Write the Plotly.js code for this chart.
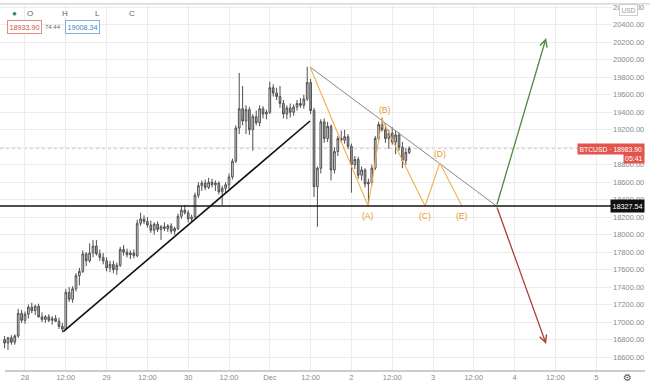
<!DOCTYPE html>
<html>
<head>
<meta charset="utf-8">
<script src="https://cdn.plot.ly/plotly-3.0.1.min.js"></script>
<style>html,body{margin:0;padding:0;background:#fff;}#chart{width:650px;height:390px;}</style>
</head>
<body>
<div id="chart"></div>
<script>
// ---- hourly BTCUSD candles, starting 2020-11-27 18:00 ----
const opens = [
16800,16760,16820,16770,16840,17100,17020,17090,17170,17130,
17180,17060,17030,17060,17020,17040,17010,16950,16920,17340,
17260,17380,17530,17580,17780,17700,17790,17870,17780,17740,
17700,17620,17660,17600,17650,17830,17800,17770,17790,17760,
18130,18180,18150,18110,18050,18120,18060,18090,18070,18100,
18040,18070,18210,18280,18250,18180,18200,18450,18560,18590,
18540,18600,18570,18590,18490,18530,18570,18660,18840,19220,
19440,19300,19430,19200,19350,19280,19440,19380,19400,19680,
19620,19580,19500,19380,19450,19400,19460,19500,19480,19550,
19740,19420,18550,18760,19290,19100,19240,18740,18950,19100,
19080,19120,19010,18800,18860,18680,18740,18580,18600,18760,
19100,19260,19200,19100,19160,19060,19140,19000,18850,18940];
const highs = [
16840,16830,16850,16860,17150,17140,17120,17200,17220,17200,
17210,17110,17080,17090,17070,17080,17050,16990,17380,17400,
17410,17560,17620,17820,17800,17900,17940,17940,17830,17790,
17740,17700,17700,17680,17860,17880,17840,17820,17830,18170,
18250,18220,18200,18160,18140,18150,18110,18140,18120,18130,
18090,18240,18320,18340,18280,18230,18480,18600,18620,18630,
18650,18640,18620,18610,18560,18600,18700,18870,19250,19850,
19700,19480,19460,19380,19420,19480,19470,19430,19750,19720,
19680,19700,19540,19480,19500,19490,19540,19560,19600,19920,
19780,19450,18780,19320,19330,19290,19260,19000,19130,19190,
19200,19150,19040,18900,18890,18780,18760,18640,18800,19130,
19290,19340,19260,19200,19230,19190,19170,19060,18990,19010];
const lows = [
16700,16680,16740,16740,16820,16990,16980,17040,17100,17080,
17050,17000,16990,17000,16970,17000,16920,16880,16910,17230,
17220,17350,17420,17560,17640,17680,17740,17760,17700,17660,
17580,17570,17560,17540,17630,17760,17740,17720,17730,17740,
18100,18120,18080,18020,18000,18030,17940,18040,18030,18010,
18000,18050,18180,18230,18140,18140,18190,18420,18500,18510,
18520,18540,18500,18460,18340,18480,18520,18630,18820,19150,
19250,19150,19140,18960,19250,19240,19330,19320,19380,19580,
19540,19450,19330,19320,19340,19360,19420,19450,19440,19530,
19380,18430,18090,18700,19050,19060,18620,18700,18900,19050,
19040,18980,18480,18750,18640,18620,18540,18330,18560,18740,
19060,19180,19050,18980,19030,18920,18960,18760,18800,18920];
const closes = [
16760,16820,16770,16840,17100,17020,17090,17170,17130,17180,
17060,17030,17060,17020,17040,17010,16950,16920,17340,17260,
17380,17530,17580,17780,17700,17790,17870,17780,17740,17700,
17620,17660,17600,17650,17830,17800,17770,17790,17760,18130,
18180,18150,18110,18050,18120,18060,18090,18070,18100,18040,
18070,18210,18280,18250,18180,18200,18450,18560,18590,18540,
18600,18570,18590,18490,18530,18570,18660,18840,19220,19440,
19300,19430,19200,19350,19280,19440,19380,19400,19680,19620,
19580,19500,19380,19450,19400,19460,19500,19480,19550,19740,
19420,18550,18760,19290,19100,19240,18740,18950,19100,19080,
19120,19010,18800,18860,18680,18740,18580,18600,18760,19100,
19260,19200,19100,19160,19060,19140,19000,18850,18940,18983.9];

// ---- axis ticks ----
const tickText = ['28','12:00','29','12:00','30','12:00','Dec','12:00','2','12:00','3','12:00','4','12:00','5'];

// ---- drawings ----
const supportPrice = 18327.54;
const lastPrice = 18983.90;
const trendUpTimes = ['2020-11-28 11:15','2020-12-01 11:50'];
const trendUpPrices = [16890, 19300];
const triTimes = ['2020-12-01 11:50','2020-12-03 18:40'];
const triPrices = [19918, 18327.54];
const waveTimes = ['2020-12-01 11:50','2020-12-02 04:55','2020-12-02 09:00','2020-12-02 21:40','2020-12-03 02:00','2020-12-03 08:30'];
const wavePrices = [19918, 18327.54, 19322, 18327.54, 18820, 18327.54];
const waveLabels = ['', '(A)', '(B)', '(C)', '(D)', '(E)'];
const projTimes = ['2020-12-03 18:40','2020-12-04 09:15'];
const projUpPrices = [18327.54, 20250];
const projDownPrices = [18327.54, 16750];

function stamp(ms){
  const d = new Date(ms), p = n => String(n).padStart(2,'0');
  return d.getUTCFullYear()+'-'+p(d.getUTCMonth()+1)+'-'+p(d.getUTCDate())+' '+p(d.getUTCHours())+':'+p(d.getUTCMinutes());
}
const startMs = Date.UTC(2020,10,27,18);
const times = closes.map((_, i) => stamp(startMs + i*3600e3));
const tickMs = Date.UTC(2020,10,28,0);
const tickVals = tickText.map((_, i) => stamp(tickMs + i*12*3600e3));

const FONT = 'Liberation Sans, Arial, sans-serif';
const orange = '#f1b04f';

const traces = [
  {type:'candlestick', x:times, open:opens, high:highs, low:lows, close:closes,
   increasing:{line:{color:'#505050', width:1}, fillcolor:'#e4e4e4'},
   decreasing:{line:{color:'#505050', width:1}, fillcolor:'#a4a4a4'},
   hoverinfo:'skip'},
  {type:'scatter', mode:'lines', x:trendUpTimes, y:trendUpPrices, line:{color:'#111', width:1.6}},
  {type:'scatter', mode:'lines', x:triTimes, y:triPrices, line:{color:'#8a8a8a', width:1}},
  {type:'scatter', mode:'lines', x:waveTimes, y:wavePrices, line:{color:orange, width:1.1}}
];

const annotations = [];
waveLabels.forEach((t, i) => {
  if (!t) return;
  const above = wavePrices[i] > supportPrice + 1;
  annotations.push({x:waveTimes[i], y:wavePrices[i], xref:'x', yref:'y', text:t, showarrow:false,
    yshift: above ? 9 : -10, xshift: (t==='(B)') ? 3 : 0,
    font:{family:FONT, size:8.5, color:'#e49a2c'}});
});
// projection arrows
annotations.push({x:projTimes[1], y:projUpPrices[1], ax:projTimes[0], ay:projUpPrices[0], xref:'x', yref:'y', axref:'x', ayref:'y',
  text:'', showarrow:true, arrowhead:5, arrowsize:1.1, arrowwidth:1.3, arrowcolor:'#4f8a3c'});
annotations.push({x:projTimes[1], y:projDownPrices[1], ax:projTimes[0], ay:projDownPrices[0], xref:'x', yref:'y', axref:'x', ayref:'y',
  text:'', showarrow:true, arrowhead:5, arrowsize:1.1, arrowwidth:1.3, arrowcolor:'#a9443a'});
// price labels on the axis
annotations.push({xref:'paper', yref:'y', x:1.054, y:lastPrice, xanchor:'right', yanchor:'middle', showarrow:false,
  text:'BTCUSD \u00b7 18983.90', bgcolor:'#e2554b', borderpad:1.5, font:{family:FONT, size:6.8, color:'#fff'}});
annotations.push({xref:'paper', yref:'y', x:1.054, y:lastPrice, yshift:-10, xanchor:'right', yanchor:'middle', showarrow:false,
  text:'05:41', bgcolor:'#e2554b', borderpad:1, font:{family:FONT, size:7, color:'#fff'}});
annotations.push({xref:'paper', yref:'y', x:1.054, y:supportPrice, xanchor:'right', yanchor:'middle', showarrow:false,
  text:'18327.54', bgcolor:'#111', borderpad:1.5, font:{family:FONT, size:7.2, color:'#fff'}});
annotations.push({xref:'paper', yref:'paper', x:1.027, y:0.987, xanchor:'center', yanchor:'middle', showarrow:false,
  text:'USD', bgcolor:'#fff', bordercolor:'#cfcfcf', borderwidth:1, borderpad:1.5, font:{family:FONT, size:6.5, color:'#999'}});
// gear icon
annotations.push({xref:'paper', yref:'paper', x:1.026, y:-0.019, xanchor:'center', yanchor:'middle', showarrow:false,
  text:'\u2699', font:{family:'DejaVu Sans', size:10, color:'#555'}});
// OHLC legend (top-left)
annotations.push({xref:'paper', yref:'paper', x:0.024, y:0.978, xanchor:'center', yanchor:'middle', showarrow:false,
  text:'\u25cf', font:{family:FONT, size:8, color:'#2e8b6a'}});
[['O',0.049],['H',0.106],['L',0.160],['C',0.216]].forEach(([t,x]) => annotations.push({xref:'paper', yref:'paper', x:x, y:0.978,
  xanchor:'center', yanchor:'middle', showarrow:false, text:t, font:{family:FONT, size:8, color:'#666'}}));
annotations.push({xref:'paper', yref:'paper', x:0.040, y:0.939, xanchor:'center', yanchor:'middle', showarrow:false,
  text:'18933.90', bordercolor:'#e28a84', borderwidth:1, borderpad:1.5, bgcolor:'#fff', font:{family:FONT, size:7.2, color:'#d0504a'}});
annotations.push({xref:'paper', yref:'paper', x:0.0865, y:0.939, xanchor:'center', yanchor:'middle', showarrow:false,
  text:'74.44', font:{family:FONT, size:6, color:'#666'}});
annotations.push({xref:'paper', yref:'paper', x:0.1345, y:0.939, xanchor:'center', yanchor:'middle', showarrow:false,
  text:'19008.34', bordercolor:'#7fb0e0', borderwidth:1, borderpad:1.5, bgcolor:'#fff', font:{family:FONT, size:7.2, color:'#3f86c8'}});

const shapes = [
  {type:'line', xref:'paper', yref:'paper', x0:0, x1:1.062, y0:1.003, y1:1.003, line:{color:'#c4c4c4', width:1}},
  {type:'line', xref:'paper', yref:'paper', x0:0.008, x1:1.054, y0:0, y1:0, line:{color:'#9a9a9a', width:1}},
  {type:'line', xref:'paper', yref:'y', x0:0, x1:1, y0:lastPrice, y1:lastPrice, line:{color:'#cfcfcf', width:1, dash:'dot'}, layer:'below'},
  {type:'line', xref:'paper', yref:'y', x0:0, x1:1, y0:supportPrice, y1:supportPrice, line:{color:'#151515', width:1.5}}
];

const layout = {
  width:650, height:390,
  margin:{l:0, r:38, t:5, b:19},
  paper_bgcolor:'#fff', plot_bgcolor:'#fff',
  showlegend:false, hovermode:false, dragmode:false,
  font:{family:FONT, size:7.5, color:'#7d7d7d'},
  xaxis:{type:'date', range:['2020-11-27 16:39','2020-12-05 04:38'], rangeslider:{visible:false},
    tickmode:'array', tickvals:tickVals, ticktext:tickText, showgrid:true, gridcolor:'#ededed', gridwidth:1,
    zeroline:false, showline:false, ticks:'', tickfont:{family:FONT, size:7.5, color:'#8a8a8a'}},
  yaxis:{side:'right', range:[16440, 20627], tick0:16600, dtick:200, tickformat:'.2f',
    showgrid:true, gridcolor:'#ebebeb', zeroline:false, showline:false, ticks:'',
    tickfont:{family:FONT, size:7.5, color:'#8a8a8a'}},
  shapes:shapes, annotations:annotations
};

Plotly.newPlot('chart', traces, layout, {staticPlot:true, displayModeBar:false});
</script>
</body>
</html>
